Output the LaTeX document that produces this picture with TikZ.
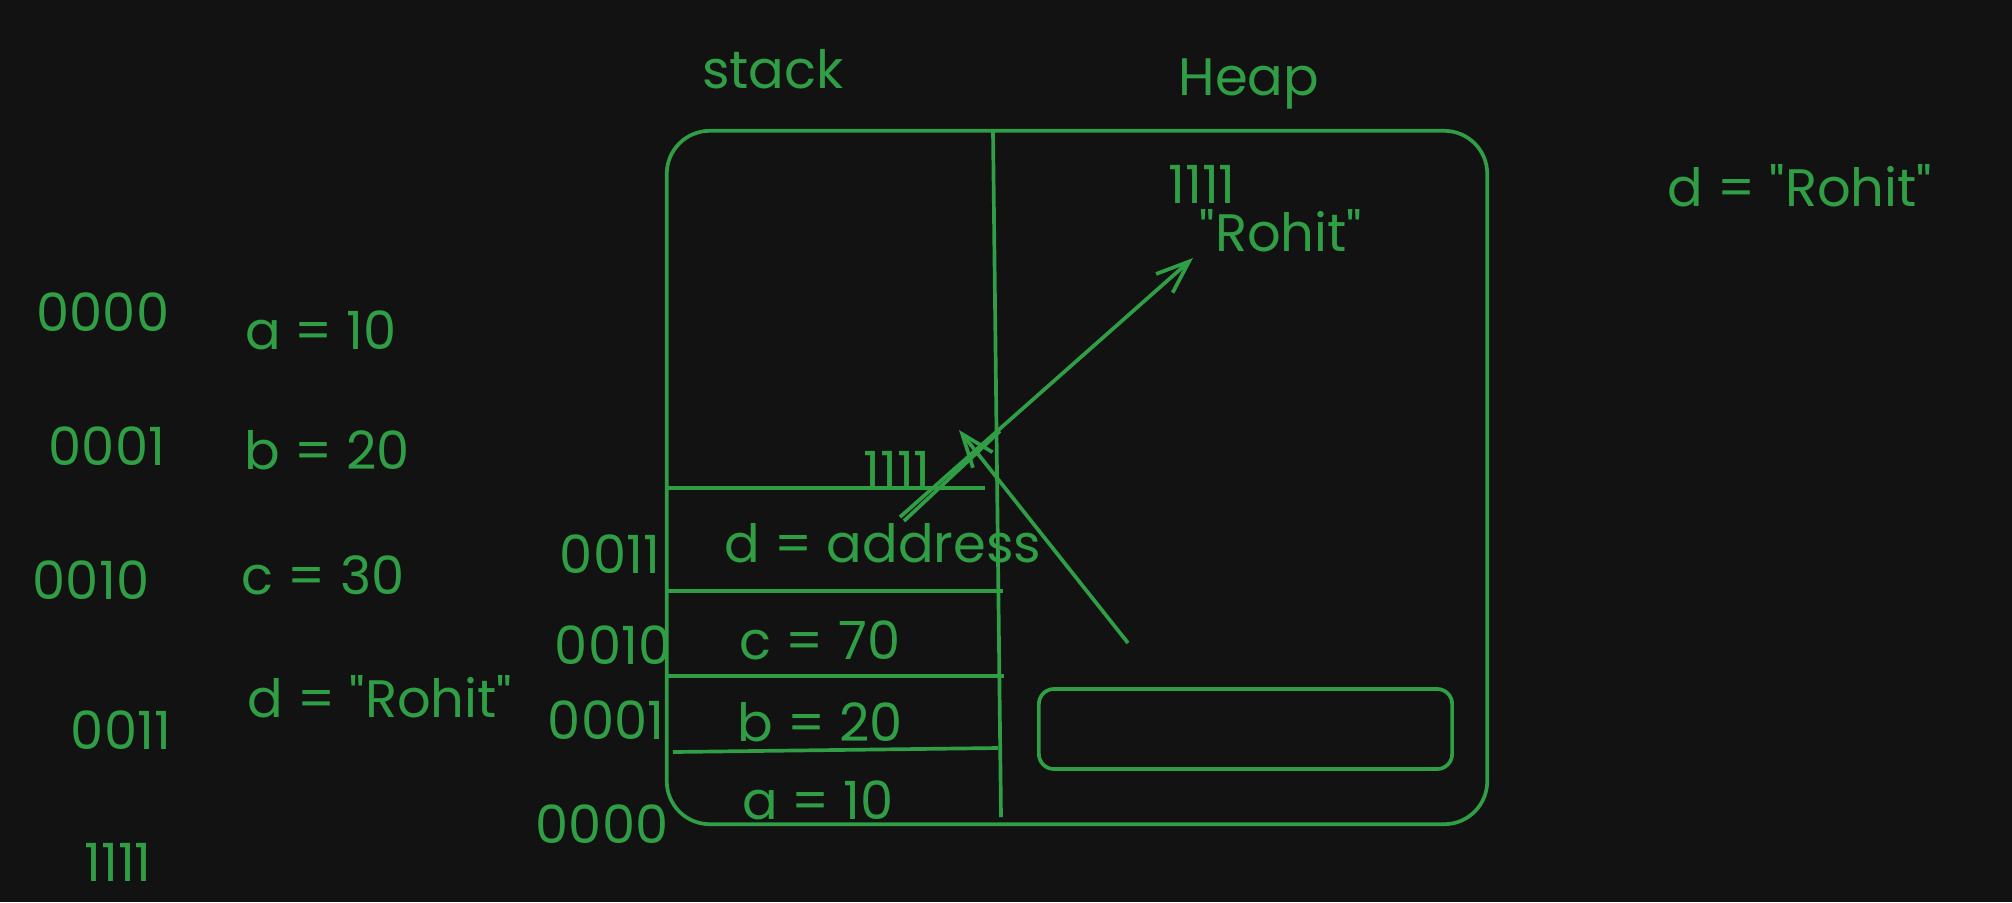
\documentclass[tikz,border=0pt]{standalone}
\usepackage{fontspec}
\newfontfamily\handfont{Poppins}
\usetikzlibrary{arrows.meta}
\definecolor{inkgreen}{HTML}{2F9E44}
\definecolor{bgdark}{HTML}{121212}

\begin{document}
\begin{tikzpicture}[
  x=0.01cm, y=-0.01cm,
  txt/.style={text=inkgreen, font=\handfont\fontsize{15}{18}\selectfont, inner sep=0pt},
  wire/.style={draw=inkgreen, line width=1.05pt},
  memory/.style={wire, rounded corners=0.43cm, minimum width=8.2cm,
                 minimum height=6.93cm, inner sep=0pt},
  slot/.style={wire, rounded corners=0.15cm, minimum width=4.13cm,
               minimum height=0.8cm, inner sep=0pt},
  pointer/.style={wire, -{Straight Barb[length=0.33cm, width=0.25cm]}},
  >=Stealth
]

% Background
\fill[bgdark] (0,0) rectangle (2012,902);

% Left column: addresses and values
\node[txt] (addrA) at (103,312) {0000};
\node[txt] (valA) at (321,330) {a = 10};
\node[txt] (addrB) at (107,446) {0001};
\node[txt] (valB) at (327,450) {b = 20};
\node[txt] (addrC) at (91,580) {0010};
\node[txt] (valC) at (323,575) {c = 30};
\node[txt] (valD) at (380,697) {d = "Rohit"};
\node[txt] (addrD) at (121,730) {0011};
\node[txt] (addrH) at (118,862) {1111};

% Headings
\node[txt] (stackhead) at (773,69) {stack};
\node[txt] (heaphead) at (1249,84) {Heap};

% Memory box and divider
\node[memory] (mem) at (1077,477.5) {};
\draw[wire] (993,131) -- (1001,817);

% Stack cells
\draw[wire] (668,488) -- (985,488);
\draw[wire] (668,591) -- (1003,591);
\draw[wire] (668,676) -- (1004,676);
\draw[wire] (673,752) -- (998,748);

\node[txt] (saddr) at (897,470) {1111};
\node[txt] (cellD) at (883,543) {d = address};
\node[txt] (cellC) at (820,640) {c = 70};
\node[txt] (cellB) at (820,722) {b = 20};
\node[txt] (cellA) at (818,800) {a = 10};

\node[txt] (caddrD) at (610,554) {0011};
\node[txt] (caddrC) at (613,645) {0010};
\node[txt] (caddrB) at (606,720) {0001};
\node[txt] (caddrA) at (602,824) {0000};

% Heap contents
\node[txt] (haddr) at (1202,184) {1111};
\node[txt] (hvalue) at (1281,231) {"Rohit"};
\node[slot] (hslot) at (1245.5,729) {};

% Note on the right
\node[txt] (note) at (1800,186) {d = "Rohit"};

% Pointer from stack to heap
\coordinate (ptrtail) at (900,517);
\coordinate (ptrtail2) at (904,521);
\coordinate (ptrjoin) at (1000,431);
\coordinate (ptrtip) at (1193,258);
\draw[pointer] (ptrtail) -- (ptrtip);
\draw[wire] (ptrtail2) -- (ptrjoin);

% Arrow back into the stack
\coordinate (backtail) at (1128,643);
\coordinate (backtip) at (959,430);
\draw[pointer] (backtail) -- (backtip);

\end{tikzpicture}
\end{document}
